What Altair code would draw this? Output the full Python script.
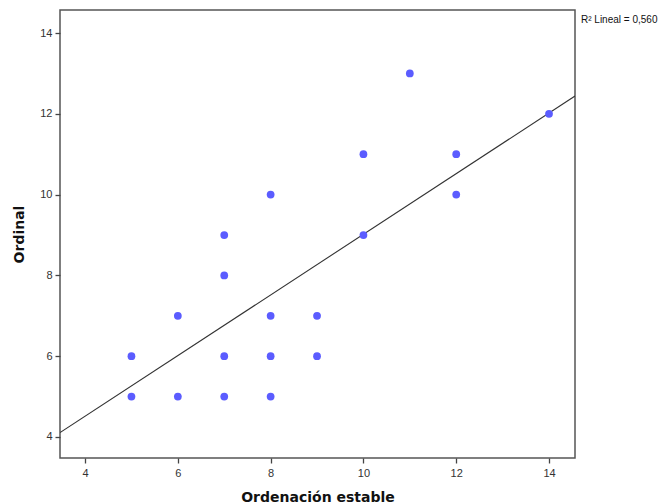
import altair as alt
import pandas as pd

# scatter data (Ordenación estable, Ordinal)
x_vals = [5, 5, 6, 6, 7, 7, 7, 7, 8, 8, 8, 8, 9, 9, 10, 10, 11, 12, 12, 14]
y_vals = [6, 5, 7, 5, 9, 8, 6, 5, 10, 7, 6, 5, 7, 6, 11, 9, 13, 11, 10, 12]

# fitted line endpoints
line_x = [3.46, 14.56]
line_y = [4.11, 12.44]

x_ticks = [4, 6, 8, 10, 12, 14]
y_ticks = [4, 6, 8, 10, 12, 14]
x_domain = [3.46, 14.56]
y_domain = [3.48, 14.57]

r2_label = "R² Lineal = 0,560"

pts = pd.DataFrame({"x": x_vals, "y": y_vals})
ln = pd.DataFrame({"x": line_x, "y": line_y})

xs = alt.Scale(domain=x_domain, nice=False, zero=False)
ys = alt.Scale(domain=y_domain, nice=False, zero=False)

axis_common = dict(
    grid=False, domain=False, tickColor="#444444", tickSize=5, tickWidth=1.3,
    labelFont="Liberation Sans", labelFontSize=11, labelColor="#333333",
    titleFont="DejaVu Sans", titleFontSize=14, titleFontWeight="bold",
    titleColor="#111111",
)

points = alt.Chart(pts).mark_circle(size=60, opacity=1, color="#5b5cff").encode(
    x=alt.X("x:Q", scale=xs, title="Ordenación estable",
            axis=alt.Axis(values=x_ticks, titlePadding=12, labelPadding=4, **axis_common)),
    y=alt.Y("y:Q", scale=ys, title="Ordinal",
            axis=alt.Axis(values=y_ticks, titlePadding=13, labelPadding=3, **axis_common)),
)

line = alt.Chart(ln).mark_line(color="#333333", strokeWidth=1.1, clip=True).encode(
    x=alt.X("x:Q", scale=xs), y=alt.Y("y:Q", scale=ys)
)

label = alt.Chart(pd.DataFrame({"t": [r2_label]})).mark_text(
    align="left", baseline="middle", font="Liberation Sans", fontSize=10,
    color="#111111",
).encode(x=alt.value(521), y=alt.value(10), text="t:N")

chart = (
    alt.layer(line, points, label)
    .properties(
        width=515, height=448,
        autosize=alt.AutoSizeParams(type="none"),
        padding={"left": 52, "top": 2, "right": 89, "bottom": 46},
    )
    .configure_view(stroke="#555555", strokeWidth=1.5)
)

chart.save("out.html", embed_options={"renderer": "svg", "actions": False})
